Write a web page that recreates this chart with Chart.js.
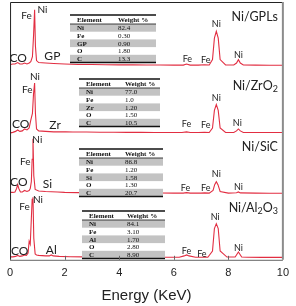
<!DOCTYPE html>
<html><head><meta charset="utf-8">
<script src="https://cdn.jsdelivr.net/npm/chart.js@4.4.1/dist/chart.umd.min.js"></script>
<style>html,body{margin:0;padding:0;background:#fff;}#wrap{width:296px;height:306px;position:relative;}</style>
</head><body><div id="wrap"><canvas id="c" width="296" height="306"></canvas></div>
<script>
// ---- Data (energy in keV, counts in arbitrary units above each spectrum's own baseline) ----
const xTicks = [0, 2, 4, 6, 8, 10];
const sampleNames = ['Ni/GPLs', 'Ni/ZrO2', 'Ni/SiC', 'Ni/Al2O3'];

const energyGPL = [0.02,0.1,0.18,0.28,0.36,0.45,0.53,0.62,0.7,0.76,0.82,0.86,0.9,0.93,0.97,1.05,1.3,1.6,2.0,2.5,3.0,3.5,4.0,4.5,5.0,5.5,6.0,6.35,6.47,6.6,6.9,7.13,7.3,7.42,7.49,7.56,7.63,7.7,7.9,8.2,8.3,8.37,8.44,8.55,9.0,9.5,10.0];
const countsGPL = [1,1.5,1.5,3,1.5,1.5,2.5,1.5,2.5,4,9,30,57,20,5,3,2.5,2,1.5,1,1,0.8,0.6,0.6,0.5,0.5,0.4,0.4,1.5,0.4,0.4,0.8,0.5,6,28,35,28,6,0.6,0.5,2.5,6,2.5,0.5,0.4,0.3,0.3];

const energyZrO2 = [0.02,0.1,0.2,0.28,0.36,0.45,0.53,0.62,0.7,0.76,0.82,0.86,0.9,0.93,0.97,1.05,1.3,1.6,2.04,2.3,2.8,3.3,3.8,4.3,4.8,5.3,5.8,6.3,6.47,6.6,6.9,7.13,7.3,7.42,7.49,7.56,7.63,7.7,7.9,8.2,8.3,8.37,8.44,8.55,9.0,9.5,10.0];
const countsZrO2 = [0,0.5,1.5,3,1.5,2,4,3,5,13,20,40,51,20,4,2,1.5,1,1.2,0.8,0.8,0.6,0.6,0.5,0.5,0.4,0.4,0.4,1,0.4,0.3,0.6,0.4,5,23,29,23,5,0.5,0.4,2,4,2,0.4,0.3,0.3,0.3];

const energySiC = [0.02,0.1,0.18,0.24,0.28,0.32,0.38,0.45,0.53,0.62,0.7,0.74,0.78,0.81,0.84,0.87,0.92,1.05,1.3,1.74,2.0,2.5,3.0,3.5,4.0,4.5,5.0,5.5,6.0,6.35,6.47,6.6,7.0,7.13,7.3,7.44,7.5,7.56,7.62,7.7,8.0,8.3,8.37,8.44,9.0,9.5,10.0];
const countsSiC = [1,1,1.5,5,9,5,1.5,1.5,3,2,3,5,12,35,56,18,4,2.5,2,1.5,1,0.8,0.6,0.6,0.5,0.5,0.4,0.4,0.3,0.3,0.8,0.3,0.3,0.5,0.3,3,9,12,9,2,0.3,0.6,1.5,0.5,0.3,0.2,0.2];

const energyAl2O3 = [0.02,0.1,0.2,0.28,0.36,0.45,0.53,0.6,0.66,0.7,0.74,0.78,0.81,0.84,0.87,0.92,0.97,1.05,1.3,1.44,1.51,1.58,1.8,2.2,2.7,3.2,3.7,4.2,4.7,5.2,5.7,6.2,6.38,6.47,6.56,6.8,7.05,7.13,7.25,7.42,7.49,7.56,7.63,7.7,7.95,8.25,8.37,8.49,8.7,9.2,9.6,10.0];
const countsAl2O3 = [1,1,1.5,2.5,1.5,2,3,2.5,5,17,14,40,60,62,20,4,3,2.5,2,2,3,2,1.5,1.2,1,1,0.8,0.8,0.7,0.6,0.6,0.6,2,3,2,0.6,0.6,1,0.6,7,30,35,30,7,0.8,0.8,6,0.8,0.6,0.5,0.5,0.5];

// inset composition tables
const tableHeader = ['Element', 'Weight %'];
const elementsGPL = ['Ni','Fe','GP','O','C'];
const weightsGPL = ['82.4','0.30','0.90','1.80','13.3'];
const elementsZrO2 = ['Ni','Fe','Zr','O','C'];
const weightsZrO2 = ['77.0','1.0','1.20','1.50','10.5'];
const elementsSiC = ['Ni','Fe','Si','O','C'];
const weightsSiC = ['86.8','1.20','1.58','1.30','20.7'];
const elementsAl2O3 = ['Ni','Fe','Al','O','C'];
const weightsAl2O3 = ['84.1','3.10','1.70','2.80','8.90'];

// peak annotations: text, energy (keV), height above the spectrum baseline, font size
const peakLabelsGPL = [['Fe',0.6,51,10],['Ni',1.19,57,10],['CO',0.3,8,12],['GP',1.55,10,12],['Ni',7.56,42,9],['Fe',6.5,7,9],['Fe',7.17,6,9],['Ni',8.37,11,9]];
const peakLabelsZrO2 = [['Ni',0.91,57,10],['Fe',0.63,44,10],['CO',0.39,9,12],['Zr',1.65,8,12],['Ni',7.56,36,9],['Fe',6.47,9,9],['Fe',7.17,8,9],['Ni',8.33,10,9]];
const peakLabelsSiC = [['Ni',1.0,55,10],['Fe',0.56,32,10],['CO',0.32,12,12],['Si',1.37,10,12],['Ni',7.56,20,9],['Fe',6.43,5,9],['Fe',7.17,5,9],['Ni',8.37,6,9]];
const peakLabelsAl2O3 = [['Ni',1.02,59,10],['Fe',0.53,52,10],['CO',0.35,7,12],['Al',1.51,8,12],['Ni',7.52,42,9],['Fe',6.47,7,9],['Fe',7.03,4,9],['Ni',8.37,10,9]];

// ---- Layout / style (not data) ----
const baselines = [199, 130, 68, 2];          // vertical offset of each stacked spectrum
const nameY = [249, 178, 116, 53];           // panel name positions (y-units)
const tableBoxes = [                         // [left, top, right, col1x, col2x] in px
  [70, 15, 156, 77, 118],
  [79, 79, 160, 86, 125],
  [79, 149, 163, 86, 125],
  [82, 211, 165, 89, 127]
];
const lineColor = 'rgb(226,46,66)';

const spectra = [
  [energyGPL, countsGPL], [energyZrO2, countsZrO2], [energySiC, countsSiC], [energyAl2O3, countsAl2O3]
];
const tables = [[elementsGPL, weightsGPL],[elementsZrO2, weightsZrO2],[elementsSiC, weightsSiC],[elementsAl2O3, weightsAl2O3]];
const peakLabels = [peakLabelsGPL, peakLabelsZrO2, peakLabelsSiC, peakLabelsAl2O3];

const datasets = spectra.map((s, i) => ({
  label: sampleNames[i],
  data: s[0].map((e, k) => ({x: e, y: s[1][k] + baselines[i]})),
  showLine: true, borderColor: lineColor, borderWidth: 1.1, pointRadius: 0, tension: 0, fill: false
}));

function drawSubText(ctx, text, xRight, yMid, size) {
  const parts = [];
  for (const ch of text) {
    const sub = /[0-9]/.test(ch);
    if (parts.length && parts[parts.length-1].sub === sub) parts[parts.length-1].t += ch;
    else parts.push({t: ch, sub});
  }
  const fMain = size + 'px Lato, "Open Sans", sans-serif';
  const fSub = Math.round(size*0.7) + 'px Lato, "Open Sans", sans-serif';
  let w = 0;
  parts.forEach(p => { ctx.font = p.sub ? fSub : fMain; p.w = ctx.measureText(p.t).width; w += p.w; });
  let x = xRight - w;
  ctx.textAlign = 'left'; ctx.textBaseline = 'middle';
  parts.forEach(p => { ctx.font = p.sub ? fSub : fMain; ctx.fillText(p.t, x, yMid + (p.sub ? 3.5 : 0)); x += p.w; });
}

const decor = {
  id: 'decor',
  afterDatasetsDraw(chart) {
    const {ctx, chartArea: a, scales: {x, y}} = chart;
    ctx.save();
    tables.forEach((t, i) => {
      const [l, top, r, c1, c2] = tableBoxes[i];
      const hh = 9, rh = 7.7;
      ctx.fillStyle = '#fff';
      ctx.fillRect(l, top, r - l, hh + rh*5);
      for (let k = 0; k < 5; k++) {
        const ry = top + hh + k*rh;
        if (k % 2 === 0) { ctx.fillStyle = '#c3c3c3'; ctx.fillRect(l, ry, r - l, rh); }
      }
      ctx.strokeStyle = '#111';
      ctx.lineWidth = 1.5;
      ctx.beginPath(); ctx.moveTo(l, top); ctx.lineTo(r, top); ctx.stroke();
      ctx.beginPath(); ctx.moveTo(l, top + hh + rh*5); ctx.lineTo(r, top + hh + rh*5); ctx.stroke();
      ctx.lineWidth = 0.8;
      ctx.beginPath(); ctx.moveTo(l, top + hh); ctx.lineTo(r, top + hh); ctx.stroke();
      ctx.fillStyle = '#111'; ctx.textBaseline = 'middle'; ctx.textAlign = 'left';
      ctx.font = 'bold 7px "Liberation Serif", serif';
      ctx.fillText(tableHeader[0], c1, top + hh/2 + 0.5);
      ctx.fillText(tableHeader[1], c2, top + hh/2 + 0.5);
      for (let k = 0; k < 5; k++) {
        const cy = top + hh + k*rh + rh/2 + 0.5;
        ctx.font = 'bold 7px "Liberation Serif", serif';
        ctx.fillText(t[0][k], c1, cy);
        ctx.font = '7px "Liberation Serif", serif';
        ctx.fillText(t[1][k], c2, cy);
      }
    });
    ctx.fillStyle = '#222'; ctx.textAlign = 'center'; ctx.textBaseline = 'middle';
    peakLabels.forEach((list, i) => {
      list.forEach(([t, e, h, sz]) => {
        ctx.font = sz + 'px Lato, "Open Sans", sans-serif';
        ctx.fillText(t, x.getPixelForValue(e), y.getPixelForValue(h + baselines[i]));
      });
    });
    ctx.fillStyle = '#222';
    sampleNames.forEach((n, i) => drawSubText(ctx, n, a.right - 5, y.getPixelForValue(nameY[i]), 12.5));
    ctx.strokeStyle = '#222'; ctx.lineWidth = 1;
    ctx.beginPath();
    ctx.moveTo(a.left + 0.5, a.bottom); ctx.lineTo(a.left + 0.5, a.top + 0.5); ctx.lineTo(a.right, a.top + 0.5);
    ctx.stroke();
    ctx.strokeStyle = '#8c8c8c'; ctx.lineWidth = 2;
    ctx.beginPath(); ctx.moveTo(a.right, a.top); ctx.lineTo(a.right, a.bottom); ctx.stroke();
    ctx.strokeStyle = '#666'; ctx.lineWidth = 1;
    ctx.beginPath(); ctx.moveTo(a.left, a.bottom + 0.5); ctx.lineTo(a.right, a.bottom + 0.5); ctx.stroke();
    xTicks.slice(1, -1).forEach(v => {
      const px = Math.round(x.getPixelForValue(v)) + 0.5;
      ctx.beginPath(); ctx.moveTo(px, a.bottom); ctx.lineTo(px, a.bottom - 4); ctx.stroke();
    });
    ctx.restore();
  }
};

new Chart(document.getElementById('c'), {
  type: 'scatter',
  data: {datasets},
  options: {
    responsive: false, animation: false, devicePixelRatio: 1,
    layout: {padding: {left: 4, right: 8, top: 2, bottom: 1}},
    plugins: {legend: {display: false}, tooltip: {enabled: false}},
    scales: {
      x: {
        type: 'linear', min: 0, max: 10,
        afterBuildTicks: s => { s.ticks = xTicks.map(v => ({value: v})); },
        grid: {display: false, drawTicks: false}, border: {display: false},
        ticks: {padding: 7, color: '#222', font: {size: 11, family: '"Liberation Sans", Arial, sans-serif'}, maxRotation: 0},
        title: {display: true, text: 'Energy (KeV)', color: '#222', padding: {top: 0, bottom: 0}, font: {size: 15, family: '"Liberation Sans", Arial, sans-serif'}}
      },
      y: {type: 'linear', min: 0, max: 264, display: false}
    }
  },
  plugins: [decor]
});
</script></body></html>
